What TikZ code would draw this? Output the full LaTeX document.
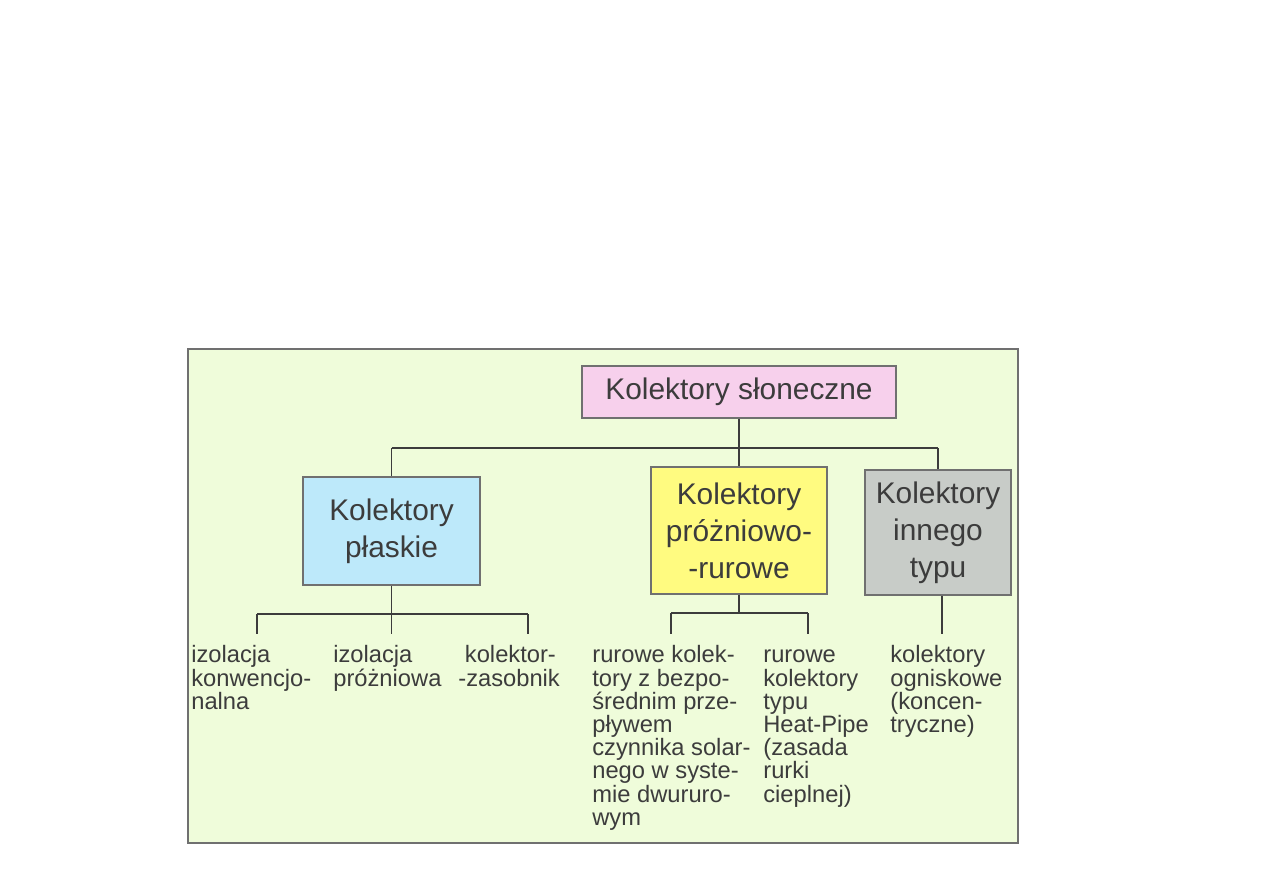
\documentclass[tikz,border=0pt]{standalone}
\usepackage{fontspec}
\setmainfont{Liberation Sans}
\usepackage{xcolor}
\usetikzlibrary{positioning}
\definecolor{panelgreen}{HTML}{EFFCDA}
\definecolor{rootpink}{HTML}{F7D0EC}
\definecolor{flatblue}{HTML}{BDE9FA}
\definecolor{tubeyellow}{HTML}{FFFB80}
\definecolor{othergray}{HTML}{C8CCC8}
\definecolor{framegray}{HTML}{707070}
\definecolor{inkgray}{HTML}{3C3C3C}
\newcommand{\lstrut}{\rule{0pt}{10pt}}

\begin{document}
\begin{tikzpicture}[
    x=0.02cm, y=-0.02cm,
    cat/.style={draw=framegray, line width=1pt, align=center, inner sep=0pt,
        text=inkgray, font=\fontsize{17}{21}\selectfont},
    leaf/.style={anchor=north west, align=left, inner sep=0pt,
        text=inkgray, font=\fontsize{13.5}{13.2}\selectfont},
    link/.style={draw=inkgray, line width=1.1pt}
]
\useasboundingbox (0,0) rectangle (1263,893);

% Panel
\draw[fill=panelgreen, draw=framegray, line width=1pt] (188,349) rectangle (1018,843);

% Categories
\node[cat, fill=rootpink, minimum width=6.28cm, minimum height=1.04cm] (root) at (739,392) {Kolektory słoneczne};
\node[cat, fill=flatblue, minimum width=3.54cm, minimum height=2.16cm] (flat) at (391.5,531) {Kolektory\\płaskie};
\node[cat, fill=tubeyellow, minimum width=3.52cm, minimum height=2.54cm] (tube) at (739,530.5) {Kolektory\\próżniowo-\\-rurowe};
\node[cat, fill=othergray, minimum width=2.92cm, minimum height=2.5cm] (other) at (938,532.5) {Kolektory\\innego\\typu};

% Leaves
\node[leaf] (conv) at (191,645) {\lstrut izolacja\\konwencjo-\\nalna};
\node[leaf] (vac) at (333,645) {\lstrut izolacja\\próżniowa};
\node[leaf] (store) at (458,645) {\lstrut\ kolektor-\\-zasobnik};
\node[leaf] (direct) at (592,645) {\lstrut rurowe kolek-\\tory z bezpo-\\średnim prze-\\pływem\\czynnika solar-\\nego w syste-\\mie dwururo-\\wym};
\node[leaf] (heatpipe) at (763,645) {\lstrut rurowe\\kolektory\\typu\\Heat-Pipe\\(zasada\\rurki\\cieplnej)};
\node[leaf] (focus) at (890,645) {\lstrut kolektory\\ogniskowe\\(koncen-\\tryczne)};

% Main bus
\coordinate (busL) at (391.5,448);
\coordinate (busR) at (938,448);
\draw[link] (busL) -- (busR);
\draw[link] (root.south) -- (root.south |- busL);
\draw[link] (busL) -- (flat.north);
\draw[link] (tube.north |- busL) -- (tube.north);
\draw[link] (busR) -- (other.north);

% Flat collectors
\coordinate (fL) at (257,614);
\coordinate (fR) at (528,614);
\draw[link] (flat.south) -- (flat.south |- fL);
\draw[link] (fL) -- (fR);
\draw[link] (fL) -- ++(0,20);
\draw[link] (flat.south |- fL) -- ++(0,20);
\draw[link] (fR) -- ++(0,20);

% Tube collectors
\coordinate (tL) at (671,613);
\coordinate (tR) at (808,613);
\draw[link] (tube.south) -- (tube.south |- tL);
\draw[link] (tL) -- (tR);
\draw[link] (tL) -- ++(0,21);
\draw[link] (tR) -- ++(0,21);

% Other collectors
\coordinate (oE) at (942,634);
\draw[link] (other.south -| oE) -- (oE);
\end{tikzpicture}
\end{document}
